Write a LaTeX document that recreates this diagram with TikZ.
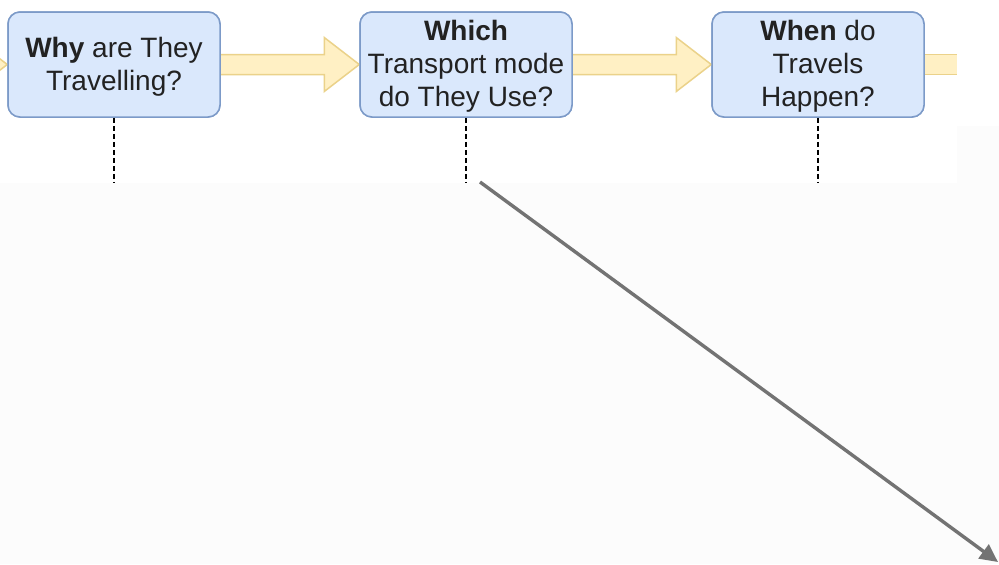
\documentclass[tikz,border=0pt]{standalone}
\usepackage{fontspec}
\setmainfont{Liberation Sans}
\usetikzlibrary{calc,arrows.meta}
\definecolor{boxfill}{HTML}{DAE8FC}
\definecolor{boxline}{HTML}{7C9AC8}
\definecolor{flowfill}{HTML}{FFF0C4}
\definecolor{flowline}{HTML}{EBD28A}
\definecolor{textcol}{HTML}{222222}
\definecolor{linkgray}{HTML}{737373}
\definecolor{paper}{HTML}{FCFCFC}
% question text, set a touch lower than the box centre
\newcommand\qtext[1]{\raisebox{-1.2pt}[\height][\depth]{\begin{tabular}{@{}c@{}}#1\end{tabular}}}
\tikzset{
  question/.style={draw=boxline, fill=boxfill, line width=0.75pt, rounded corners=6pt,
    minimum width=106pt, minimum height=52.5pt, inner sep=0pt, align=center,
    text=textcol, font=\fontsize{14}{16.5}\selectfont},
  flowbody/.style={fill=flowfill},
  flowedge/.style={draw=flowline, line width=0.75pt, line join=miter},
  guide/.style={draw=black, line width=0.65pt, dash pattern=on 2.5pt off 1.5pt},
  link/.style={draw=linkgray, line width=1.7pt, -{Triangle[length=9pt,width=8.5pt]}}
}
\begin{document}
\begin{tikzpicture}[x=0.5pt,y=-0.5pt]
  % page and backdrop
  \useasboundingbox (0,0) rectangle (999,564);
  \clip (0,0) rectangle (999,564);
  \fill[paper] (0,0) rectangle (999,564);
  \fill[white] (0,0) rectangle (957,183);
  \fill[white] (957,0) rectangle (999,126);

  % question boxes
  \node[question] (why)   at (114,64.5) {\qtext{\textbf{Why} are They\\Travelling?}};
  \node[question] (which) at (466,64.5) {\qtext{\textbf{Which}\\Transport mode\\do They Use?}};
  \node[question] (when)  at (818,64.5) {\qtext{\textbf{When} do\\Travels\\Happen?}};

  % flow arrow into the first box (its tail runs off the page)
  \path let \p2=(why.west) in
    [flowbody] (\x2-120pt,\y2+5pt) -- (\x2-17.5pt,\y2+5pt) -- (\x2-17.5pt,\y2+13.5pt)
      -- (\x2,\y2) -- (\x2-17.5pt,\y2-13.5pt) -- (\x2-17.5pt,\y2-5pt) -- (\x2-120pt,\y2-5pt) -- cycle;
  \path let \p2=(why.west) in
    [flowedge] (\x2-120pt,\y2+5pt) -- (\x2-17.5pt,\y2+5pt) -- (\x2-17.5pt,\y2+13.5pt)
      -- (\x2,\y2) -- (\x2-17.5pt,\y2-13.5pt) -- (\x2-17.5pt,\y2-5pt) -- (\x2-120pt,\y2-5pt);

  % flow arrows between boxes
  \foreach \a/\b in {why/which, which/when}{
    \path let \p1=(\a.east), \p2=(\b.west) in
      [flowbody] (\x1,\y1+5pt) -- (\x2-17.5pt,\y1+5pt) -- (\x2-17.5pt,\y1+13.5pt)
        -- (\x2,\y1) -- (\x2-17.5pt,\y1-13.5pt) -- (\x2-17.5pt,\y1-5pt) -- (\x1,\y1-5pt) -- cycle;
    \path let \p1=(\a.east), \p2=(\b.west) in
      [flowedge] (\x1,\y1+5pt) -- (\x2-17.5pt,\y1+5pt) -- (\x2-17.5pt,\y1+13.5pt)
        -- (\x2,\y1) -- (\x2-17.5pt,\y1-13.5pt) -- (\x2-17.5pt,\y1-5pt) -- (\x1,\y1-5pt);
  }

  % flow arrow leaving the last box, cut at the page edge
  \coordinate (flowcut) at (957,64.5);
  \path let \p1=(when.east), \p2=(flowcut) in
    [flowbody] (\x1,\y1+5pt) rectangle (\x2,\y1-5pt);
  \path let \p1=(when.east), \p2=(flowcut) in
    [flowedge] (\x1,\y1+5pt) -- (\x2,\y1+5pt) (\x1,\y1-5pt) -- (\x2,\y1-5pt);

  % redraw the boxes over the arrow ends
  \node[question] at (why)   {\qtext{\textbf{Why} are They\\Travelling?}};
  \node[question] at (which) {\qtext{\textbf{Which}\\Transport mode\\do They Use?}};
  \node[question] at (when)  {\qtext{\textbf{When} do\\Travels\\Happen?}};

  % dashed drop lines
  \coordinate (whyfoot)   at (114,182);
  \coordinate (whichfoot) at (466,182);
  \coordinate (whenfoot)  at (818,182);
  \path[guide] (why.south)   -- (whyfoot);
  \path[guide] (which.south) -- (whichfoot);
  \path[guide] (when.south)  -- (whenfoot);

  % long grey pointer
  \coordinate (linkstart) at (480,182);
  \coordinate (linkend)   at (998,562);
  \path[link] (linkstart) -- (linkend);
\end{tikzpicture}
\end{document}
